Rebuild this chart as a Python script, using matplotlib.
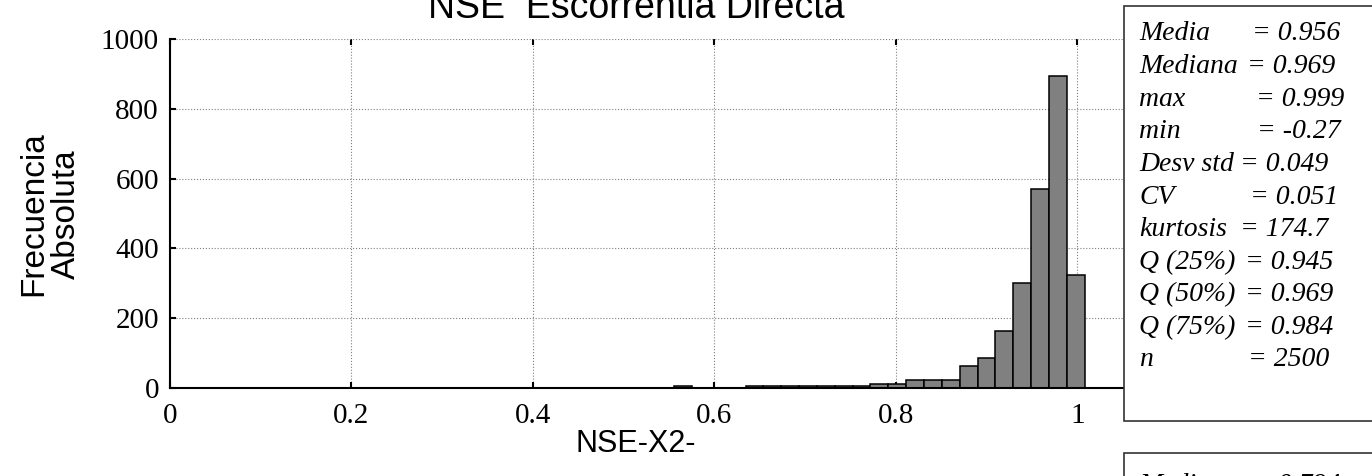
import numpy as np
import matplotlib
matplotlib.use('Agg')
import matplotlib.pyplot as plt
from matplotlib.patches import Rectangle

# histogram counts, lowest bin (-0.27) first
bin_counts = [1, 0, 0, 0, 0, 0, 0, 0, 0, 0,
              0, 0, 0, 0, 0, 0, 0, 0, 0, 0,
              0, 0, 0, 0, 0, 0, 0, 0, 0, 0,
              0, 0, 0, 0, 0, 0, 0, 0, 0, 0,
              0, 0, 5, 0, 0, 0, 5, 5, 5, 5,
              5, 5, 5, 12, 12, 24, 24, 24, 62, 87,
              163, 300, 569, 894, 325]
bin_lo, bin_hi = -0.27, 1.008

x_ticks = [0, 0.2, 0.4, 0.6, 0.8, 1]
x_ticklabels = ['0', '0.2', '0.4', '0.6', '0.8', '1']
y_ticks = [0, 200, 400, 600, 800, 1000]

stat_names = ['Media', 'Mediana', 'max', 'min', 'Desv std', 'CV', 'kurtosis',
              'Q (25%)', 'Q (50%)', 'Q (75%)', 'n']
stat_values = ['= 0.956', '= 0.969', '= 0.999', '= -0.27', '= 0.049', '= 0.051',
               '= 174.7', '= 0.945', '= 0.969', '= 0.984', '= 2500']
eq_x = [1252, 1247, 1256, 1257, 1240, 1250, 1240, 1245, 1245, 1245, 1248]

W, H = 1372, 476
fig = plt.figure(figsize=(W / 100, H / 100), dpi=100)
ax = fig.add_axes([170 / W, 88 / H, (1168 - 170) / W, (437 - 88) / H])

edges = np.linspace(bin_lo, bin_hi, len(bin_counts) + 1)
ax.bar(edges[:-1], bin_counts, width=np.diff(edges), align='edge',
       color='#808080', edgecolor='black', linewidth=1.1, zorder=3)

ax.set_xlim(0, 1.1)
ax.set_ylim(0, 1000)
ax.set_xticks(x_ticks)
ax.set_xticklabels(x_ticklabels)
ax.set_yticks(y_ticks)
ax.grid(True, color='#808080', linestyle=':', linewidth=0.8, zorder=0)
ax.set_axisbelow(True)

for s in ['top', 'right']:
    ax.spines[s].set_visible(False)
for s in ['left', 'bottom']:
    ax.spines[s].set_linewidth(1.5)
    ax.spines[s].set_zorder(4)

ax.tick_params(direction='in', length=4, width=1.5, top=True,
               labelsize=21, pad=8)
ax.tick_params(axis='x', pad=11)
for lab in ax.get_xticklabels() + ax.get_yticklabels():
    lab.set_fontfamily('Liberation Serif')

fig.text(636 / W, (H - 18) / H, 'NSE  Escorrentia Directa', ha='center', va='baseline',
         fontsize=27, family='Liberation Sans')
fig.text(636 / W, (H - 452) / H, 'NSE-X2-', ha='center', va='baseline',
         fontsize=22, family='Liberation Sans')
fig.text(50 / W, (H - 214) / H, 'Frecuencia\nAbsoluta', ha='center', va='center',
         rotation=90, fontsize=24, family='Liberation Sans', linespacing=1.05)

# statistics boxes
fig.patches.append(Rectangle((1124 / W, 55 / H), 260 / W, (470 - 55) / H,
                             transform=fig.transFigure, facecolor='white',
                             edgecolor='#333333', linewidth=1.2, zorder=5))
fig.patches.append(Rectangle((1124 / W, -40 / H), 260 / W, (23 + 40) / H,
                             transform=fig.transFigure, facecolor='white',
                             edgecolor='#333333', linewidth=1.2, zorder=5))

for i, (name, val, ex) in enumerate(zip(stat_names, stat_values, eq_x)):
    y = H - (34 + 32.6 * i)
    fig.text(1139 / W, y / H, name, ha='left', va='center', fontsize=20,
             family='Liberation Serif', style='italic', zorder=6)
    fig.text(ex / W, y / H, val, ha='left', va='center', fontsize=20,
             family='Liberation Serif', style='italic', zorder=6)

fig.text(1139 / W, (H - 486) / H, 'Media', ha='left', va='center', fontsize=20,
         family='Liberation Serif', style='italic', zorder=6)
fig.text(1252 / W, (H - 486) / H, '= 0.794', ha='left', va='center', fontsize=20,
         family='Liberation Serif', style='italic', zorder=6)

fig.savefig('out.png', dpi=100)
